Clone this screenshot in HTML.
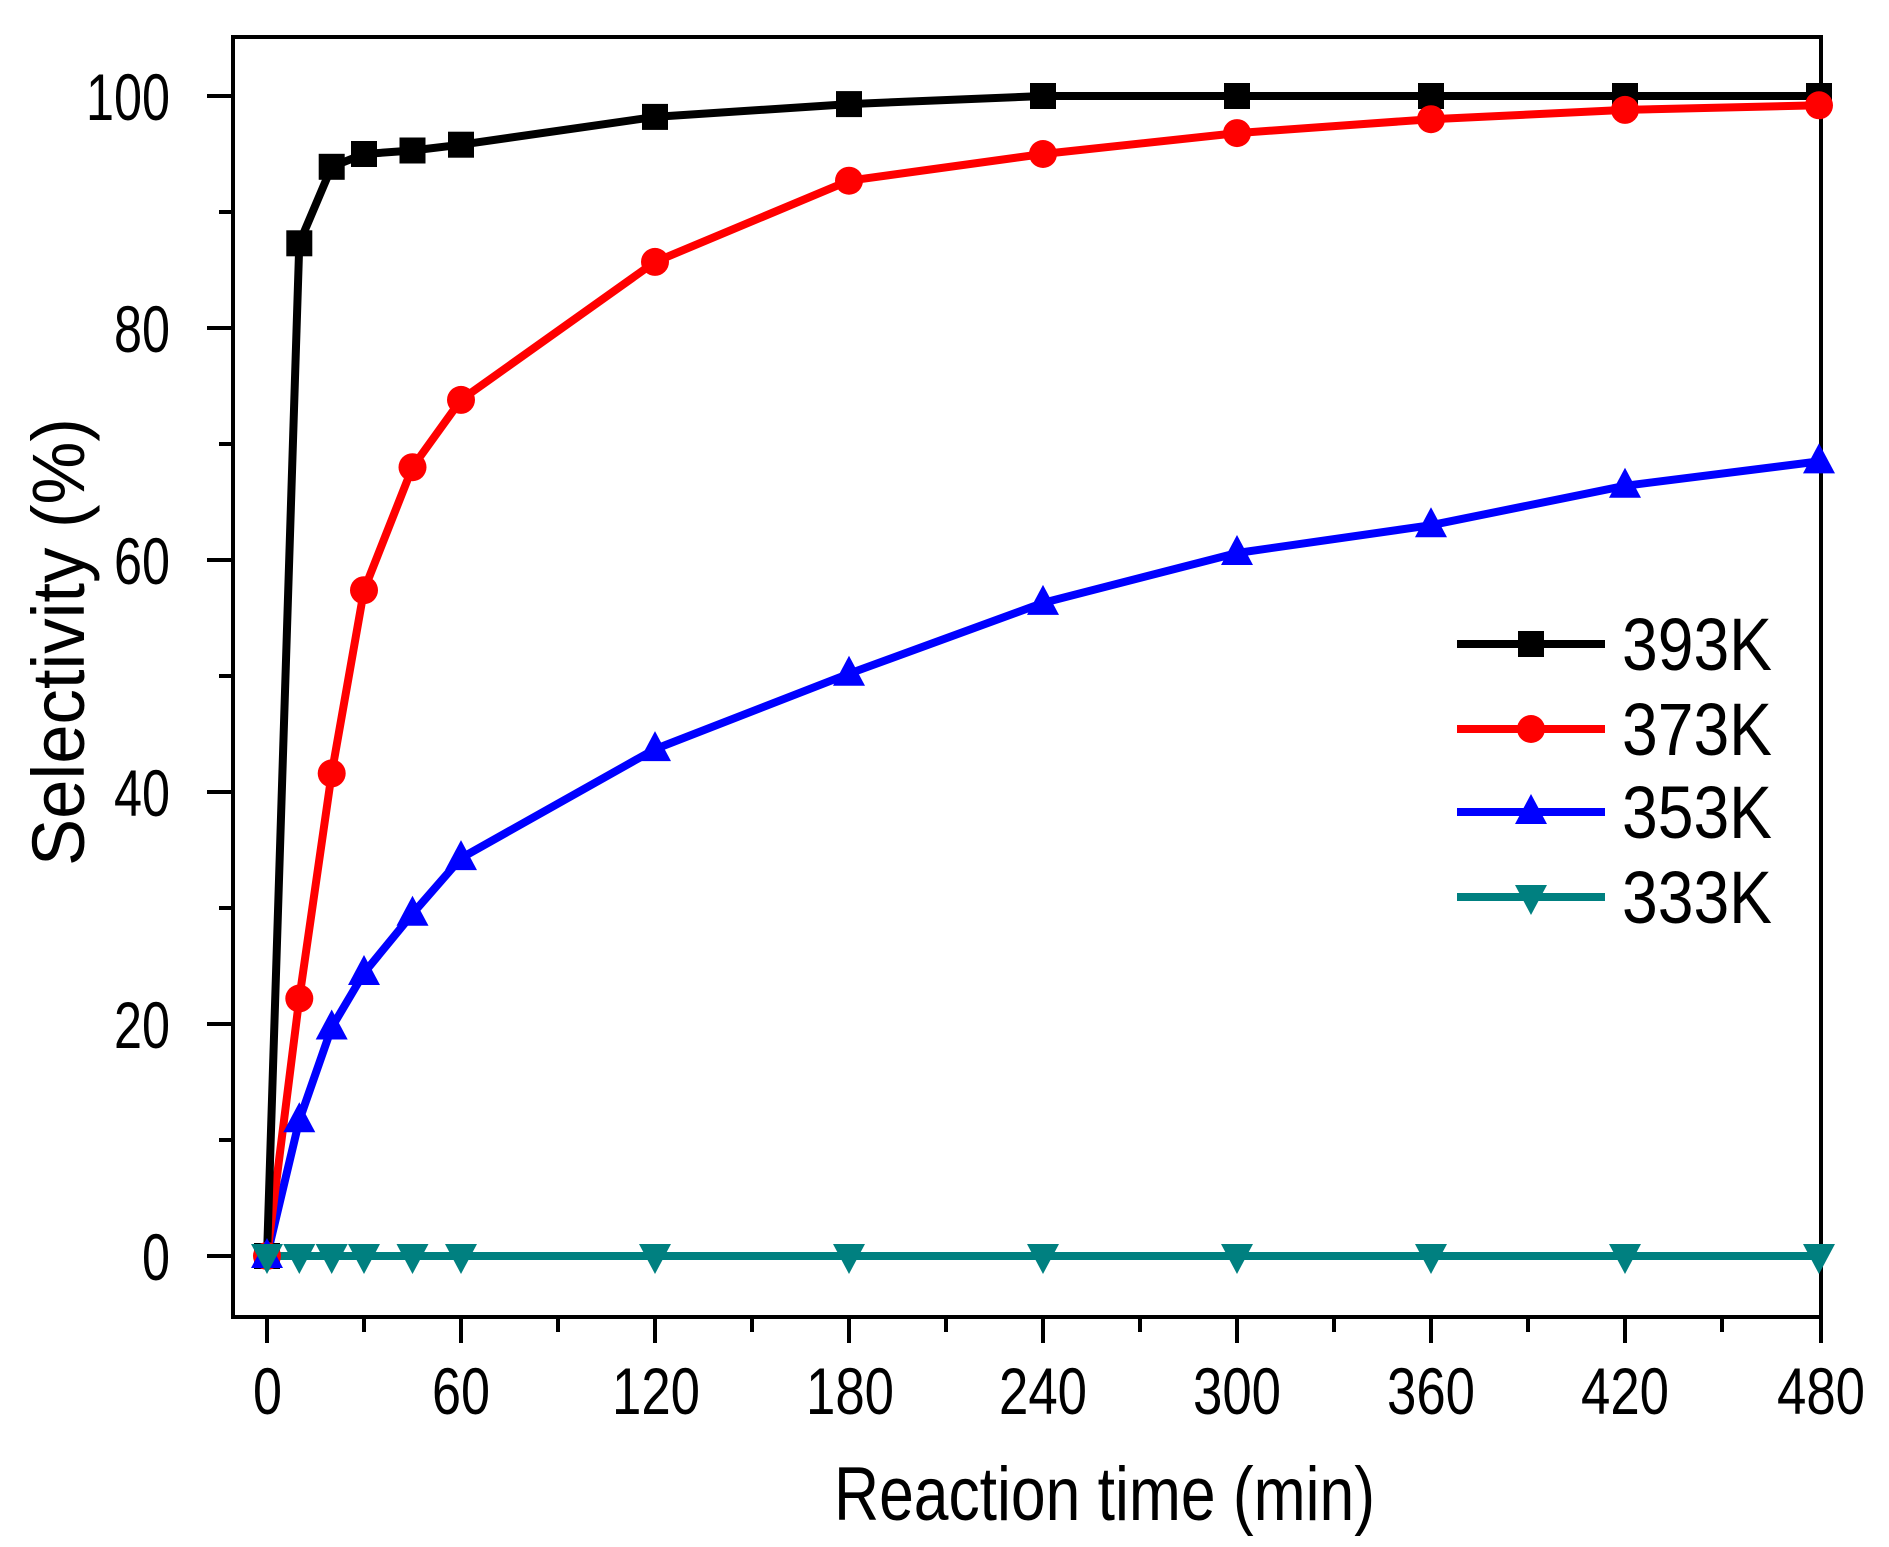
<!DOCTYPE html>
<html><head><meta charset="utf-8"><style>html,body{margin:0;padding:0;background:#fff}svg{display:block}text{font-family:"Liberation Sans",Arial,sans-serif;fill:#000}</style></head>
<body>
<svg width="1889" height="1547" viewBox="0 0 1889 1547" xmlns="http://www.w3.org/2000/svg">
<defs>
<rect id="sq" x="-13" y="-13" width="26" height="26" fill="#000"/>
<circle id="ci" r="14" fill="#f00"/>
<polygon id="tu" points="0,-18 16,12 -16,12" fill="#00f"/>
<polygon id="td" points="0,18 16,-12 -16,-12" fill="#008080"/>
</defs>
<rect x="233" y="37" width="1588" height="1280" fill="none" stroke="#000" stroke-width="4"/>
<g stroke="#000" stroke-width="4">
<line x1="207" y1="96" x2="233" y2="96"/><line x1="219" y1="212" x2="233" y2="212"/>
<line x1="207" y1="328" x2="233" y2="328"/><line x1="219" y1="444" x2="233" y2="444"/>
<line x1="207" y1="560" x2="233" y2="560"/><line x1="219" y1="676" x2="233" y2="676"/>
<line x1="207" y1="792" x2="233" y2="792"/><line x1="219" y1="908" x2="233" y2="908"/>
<line x1="207" y1="1024" x2="233" y2="1024"/><line x1="219" y1="1140" x2="233" y2="1140"/>
<line x1="207" y1="1256" x2="233" y2="1256"/>
<line x1="267" y1="1317" x2="267" y2="1343"/><line x1="364" y1="1317" x2="364" y2="1332"/>
<line x1="461" y1="1317" x2="461" y2="1343"/><line x1="558" y1="1317" x2="558" y2="1332"/>
<line x1="655" y1="1317" x2="655" y2="1343"/><line x1="752" y1="1317" x2="752" y2="1332"/>
<line x1="849" y1="1317" x2="849" y2="1343"/><line x1="946" y1="1317" x2="946" y2="1332"/>
<line x1="1043" y1="1317" x2="1043" y2="1343"/><line x1="1140" y1="1317" x2="1140" y2="1332"/>
<line x1="1237" y1="1317" x2="1237" y2="1343"/><line x1="1334" y1="1317" x2="1334" y2="1332"/>
<line x1="1431" y1="1317" x2="1431" y2="1343"/><line x1="1528" y1="1317" x2="1528" y2="1332"/>
<line x1="1625" y1="1317" x2="1625" y2="1343"/><line x1="1722" y1="1317" x2="1722" y2="1332"/>
<line x1="1821" y1="1317" x2="1821" y2="1343"/>
</g>
<g font-size="66" text-anchor="end">
<text x="170" y="120" textLength="84" lengthAdjust="spacingAndGlyphs">100</text>
<text x="170" y="352" textLength="56" lengthAdjust="spacingAndGlyphs">80</text>
<text x="170" y="584" textLength="56" lengthAdjust="spacingAndGlyphs">60</text>
<text x="170" y="816" textLength="56" lengthAdjust="spacingAndGlyphs">40</text>
<text x="170" y="1048" textLength="56" lengthAdjust="spacingAndGlyphs">20</text>
<text x="170" y="1280" textLength="28" lengthAdjust="spacingAndGlyphs">0</text>
</g>
<g font-size="66">
<text x="253" y="1414" textLength="29" lengthAdjust="spacingAndGlyphs">0</text>
<text x="432" y="1414" textLength="58" lengthAdjust="spacingAndGlyphs">60</text>
<text x="612" y="1414" textLength="88" lengthAdjust="spacingAndGlyphs">120</text>
<text x="806" y="1414" textLength="88" lengthAdjust="spacingAndGlyphs">180</text>
<text x="999" y="1414" textLength="88" lengthAdjust="spacingAndGlyphs">240</text>
<text x="1193" y="1414" textLength="88" lengthAdjust="spacingAndGlyphs">300</text>
<text x="1387" y="1414" textLength="88" lengthAdjust="spacingAndGlyphs">360</text>
<text x="1581" y="1414" textLength="88" lengthAdjust="spacingAndGlyphs">420</text>
<text x="1777" y="1414" textLength="88" lengthAdjust="spacingAndGlyphs">480</text>
</g>
<text x="834" y="1520" font-size="76" textLength="541" lengthAdjust="spacingAndGlyphs">Reaction time (min)</text>
<text transform="translate(84,866) rotate(-90)" font-size="74" textLength="448" lengthAdjust="spacingAndGlyphs">Selectivity (%)</text>

<g fill="none" stroke-width="8" stroke-linejoin="round">
<polyline stroke="#008080" points="267,1256 1819,1256"/>
<polyline stroke="#00f" points="267,1256 299.3,1120.3 331.7,1027.5 364,973 412.5,913.8 461,858.1 655,749.1 849,673.7 1043,602.9 1237,553 1431,525.2 1625,485.8 1819,461.4"/>
<polyline stroke="#f00" points="267,1256 299.3,998.5 331.7,773.4 364,590.2 412.5,467.2 461,399.9 655,261.9 849,180.7 1043,154 1237,133.1 1431,119.2 1625,109.9 1819,105.3"/>
<polyline stroke="#000" points="267,1256 299.3,243.3 331.7,166.8 364,154 412.5,150.5 461,144.7 655,116.9 849,104.1 1043,96 1819,96"/>
</g>
<g>
<use href="#sq" x="267" y="1256"/><use href="#sq" x="299.3" y="243.3"/><use href="#sq" x="331.7" y="166.8"/><use href="#sq" x="364" y="154"/><use href="#sq" x="412.5" y="150.5"/><use href="#sq" x="461" y="144.7"/><use href="#sq" x="655" y="116.9"/><use href="#sq" x="849" y="104.1"/><use href="#sq" x="1043" y="96"/><use href="#sq" x="1237" y="96"/><use href="#sq" x="1431" y="96"/><use href="#sq" x="1625" y="96"/><use href="#sq" x="1819" y="96"/>
<use href="#ci" x="267" y="1256"/><use href="#ci" x="299.3" y="998.5"/><use href="#ci" x="331.7" y="773.4"/><use href="#ci" x="364" y="590.2"/><use href="#ci" x="412.5" y="467.2"/><use href="#ci" x="461" y="399.9"/><use href="#ci" x="655" y="261.9"/><use href="#ci" x="849" y="180.7"/><use href="#ci" x="1043" y="154"/><use href="#ci" x="1237" y="133.1"/><use href="#ci" x="1431" y="119.2"/><use href="#ci" x="1625" y="109.9"/><use href="#ci" x="1819" y="105.3"/>
<use href="#tu" x="267" y="1256"/><use href="#tu" x="299.3" y="1120.3"/><use href="#tu" x="331.7" y="1027.5"/><use href="#tu" x="364" y="973"/><use href="#tu" x="412.5" y="913.8"/><use href="#tu" x="461" y="858.1"/><use href="#tu" x="655" y="749.1"/><use href="#tu" x="849" y="673.7"/><use href="#tu" x="1043" y="602.9"/><use href="#tu" x="1237" y="553"/><use href="#tu" x="1431" y="525.2"/><use href="#tu" x="1625" y="485.8"/><use href="#tu" x="1819" y="461.4"/>
<use href="#td" x="267" y="1256"/><use href="#td" x="299.3" y="1256"/><use href="#td" x="331.7" y="1256"/><use href="#td" x="364" y="1256"/><use href="#td" x="412.5" y="1256"/><use href="#td" x="461" y="1256"/><use href="#td" x="655" y="1256"/><use href="#td" x="849" y="1256"/><use href="#td" x="1043" y="1256"/><use href="#td" x="1237" y="1256"/><use href="#td" x="1431" y="1256"/><use href="#td" x="1625" y="1256"/><use href="#td" x="1819" y="1256"/>
</g>

<g stroke-width="8">
<line x1="1457" y1="644" x2="1605" y2="644" stroke="#000"/>
<line x1="1457" y1="729" x2="1605" y2="729" stroke="#f00"/>
<line x1="1457" y1="812" x2="1605" y2="812" stroke="#00f"/>
<line x1="1457" y1="897" x2="1605" y2="897" stroke="#008080"/>
</g>
<use href="#sq" x="1531" y="644"/><use href="#ci" x="1531" y="729"/><use href="#tu" x="1531" y="812"/><use href="#td" x="1531" y="897"/>
<g font-size="74">
<text x="1622" y="670" textLength="150" lengthAdjust="spacingAndGlyphs">393K</text>
<text x="1622" y="755" textLength="150" lengthAdjust="spacingAndGlyphs">373K</text>
<text x="1622" y="838" textLength="150" lengthAdjust="spacingAndGlyphs">353K</text>
<text x="1622" y="923" textLength="150" lengthAdjust="spacingAndGlyphs">333K</text>
</g>
</svg>
</body></html>
